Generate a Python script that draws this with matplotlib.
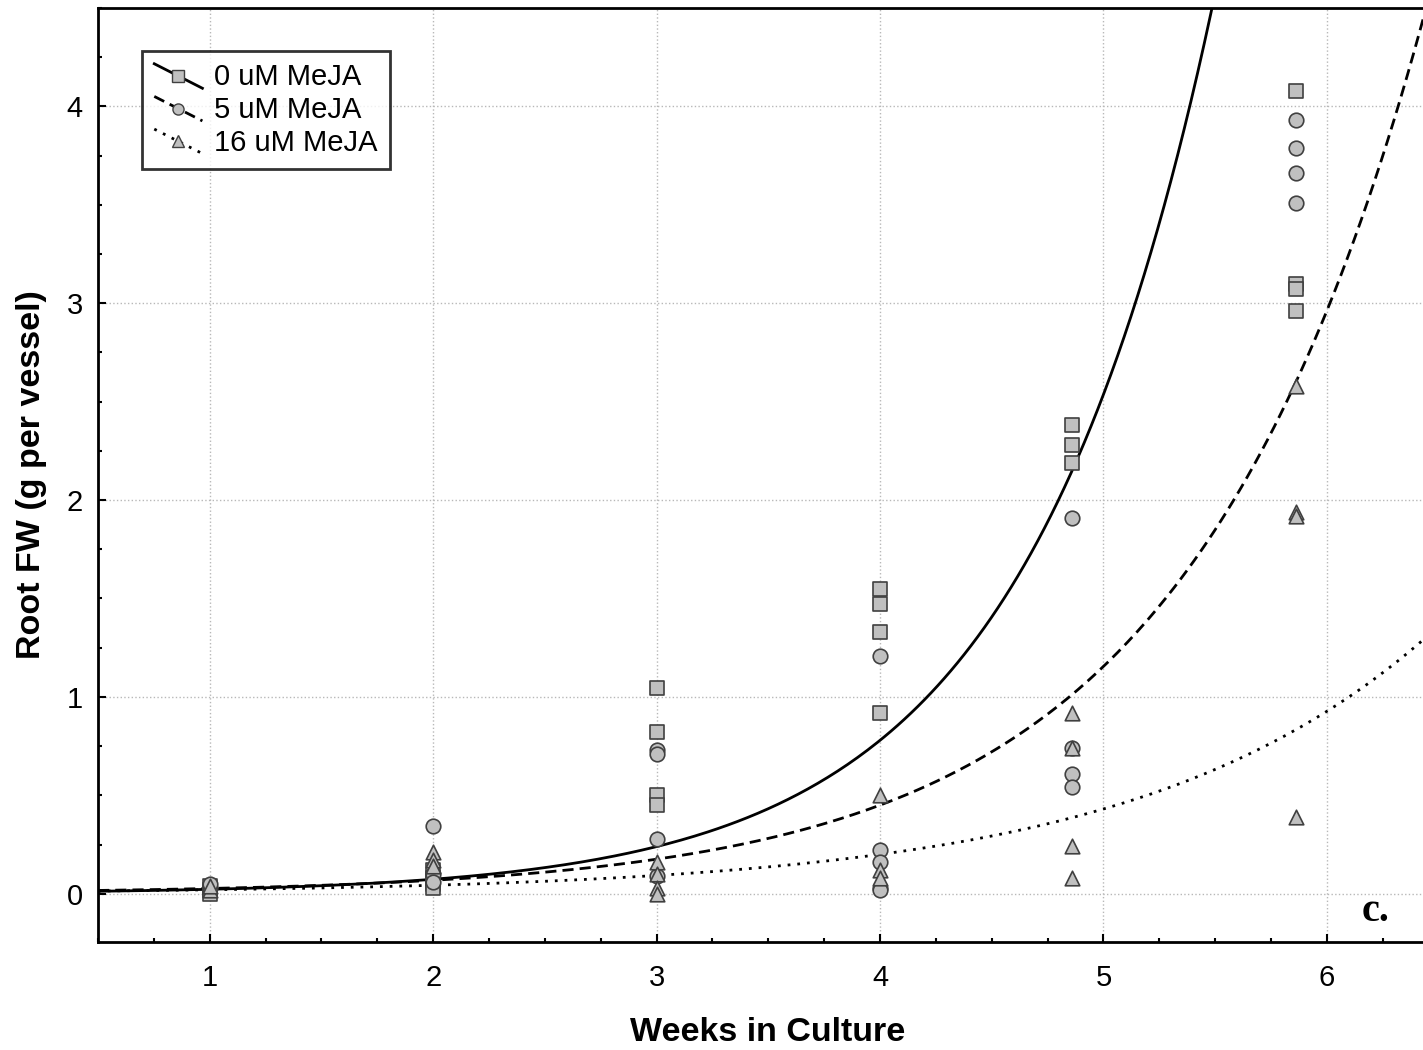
import numpy as np
import matplotlib
matplotlib.use("Agg")
from matplotlib import pyplot as plt
from matplotlib.lines import Line2D
from matplotlib.legend_handler import HandlerBase
from matplotlib.ticker import MultipleLocator

plt.rcParams['font.family'] = ['Liberation Sans', 'DejaVu Sans']

# harvest positions (weeks)
weeks = [1, 2, 3, 4, 4.86, 5.86]

# root fresh weight per vessel
fw_0 = [[0.0, 0.02, 0.04],
        [0.12, 0.08, 0.05, 0.03],
        [1.045, 0.82, 0.50, 0.45],
        [1.55, 1.47, 1.33, 0.92],
        [2.38, 2.28, 2.19],
        [4.08, 3.10, 3.07, 2.96]]
fw_5 = [[0.03, 0.05],
        [0.345, 0.10, 0.06],
        [0.73, 0.71, 0.28, 0.09],
        [1.21, 0.22, 0.16, 0.03, 0.02],
        [1.91, 0.74, 0.61, 0.54],
        [3.93, 3.79, 3.66, 3.51]]
fw_16 = [[0.02, 0.04],
         [0.21, 0.17, 0.14],
         [0.16, 0.10, 0.03, 0.0],
         [0.50, 0.12, 0.08],
         [0.92, 0.74, 0.24, 0.08],
         [2.58, 1.94, 1.92, 0.39]]

# exponential fits y = a*exp(b*x), coefficients estimated from the figure
fit_a = [0.00695, 0.0104, 0.0093]
fit_b = [1.18, 0.942, 0.767]

labels = ['0 uM MeJA', '5 uM MeJA', '16 uM MeJA']
markers = ['s', 'o', '^']
styles = ['-', (0, (4, 2.2)), (0, (1, 2.5))]


# legend key: slanted line segment with the marker in the middle
class SlantHandler(HandlerBase):
    def __init__(self, ls, mk):
        super().__init__()
        self.ls = ls
        self.mk = mk

    def create_artists(self, legend, orig_handle, xdescent, ydescent,
                       width, height, fontsize, trans):
        x0, x1 = -xdescent, -xdescent + width
        y0, y1 = -ydescent + height * 1.05, -ydescent - height * 0.15
        ln = Line2D([x0, x1], [y0, y1], color='black', linewidth=2,
                    linestyle=self.ls, transform=trans)
        mk = Line2D([(x0 + x1) / 2], [(y0 + y1) / 2], marker=self.mk,
                    markersize=8, markerfacecolor='#c0c0c0', markeredgecolor='#404040',
                    linestyle='none', transform=trans)
        return [ln, mk]


fig = plt.figure(figsize=(14.23, 10.5), dpi=100)
ax = fig.add_axes([0.0689, 0.1029, 0.9311, 0.8895])

xs = np.linspace(0.5, 6.45, 400)
for a, b, ls in zip(fit_a, fit_b, styles):
    ax.plot(xs, a * np.exp(b * xs), color='black', linestyle=ls, linewidth=2.0, zorder=2)

for data, mk in zip([fw_0, fw_5, fw_16], markers):
    for w, vals in zip(weeks, data):
        ax.scatter([w] * len(vals), vals, marker=mk, s=110, facecolor='#c0c0c0',
                   edgecolor='#404040', linewidth=1.2, zorder=3)

ax.set_xlim(0.5, 6.43)
ax.set_ylim(-0.245, 4.5)
ax.xaxis.set_major_locator(MultipleLocator(1))
ax.xaxis.set_minor_locator(MultipleLocator(0.25))
ax.yaxis.set_major_locator(MultipleLocator(1))
ax.yaxis.set_minor_locator(MultipleLocator(0.25))
ax.tick_params(which='major', direction='in', length=6, width=1.5, labelsize=21)
ax.tick_params(which='minor', direction='in', length=3, width=1.5)
ax.tick_params(axis='x', pad=16)
ax.tick_params(axis='y', pad=11)
ax.grid(True, which='major', linestyle=':', color='#b8b8b8', linewidth=1.0)
ax.set_axisbelow(True)

for side in ['left', 'bottom', 'top']:
    ax.spines[side].set_linewidth(2)
ax.spines['right'].set_visible(False)

ax.set_xlabel('Weeks in Culture', fontsize=24.5, fontweight='bold')
ax.set_ylabel('Root FW (g per vessel)', fontsize=24.5, fontweight='bold', labelpad=14)
ax.xaxis.set_label_coords(0.505, -0.08)

handles = [Line2D([0], [0], color='black') for _ in labels]
hmap = {h: SlantHandler(ls, mk) for h, ls, mk in zip(handles, styles, markers)}
leg = ax.legend(handles, labels, loc='upper left', bbox_to_anchor=(0.0332, 0.954),
                fontsize=21, frameon=True, fancybox=False, handlelength=1.65,
                handletextpad=0.4, labelspacing=0.16, borderpad=0.42, borderaxespad=0,
                handler_map=hmap)
leg.get_frame().set_edgecolor('black')
leg.get_frame().set_linewidth(2)

ax.text(0.975, 0.033, 'c.', transform=ax.transAxes, ha='right', va='center',
        fontsize=29, fontweight='bold', family=['Liberation Serif', 'DejaVu Serif'])

fig.savefig('out.png', dpi=100)
